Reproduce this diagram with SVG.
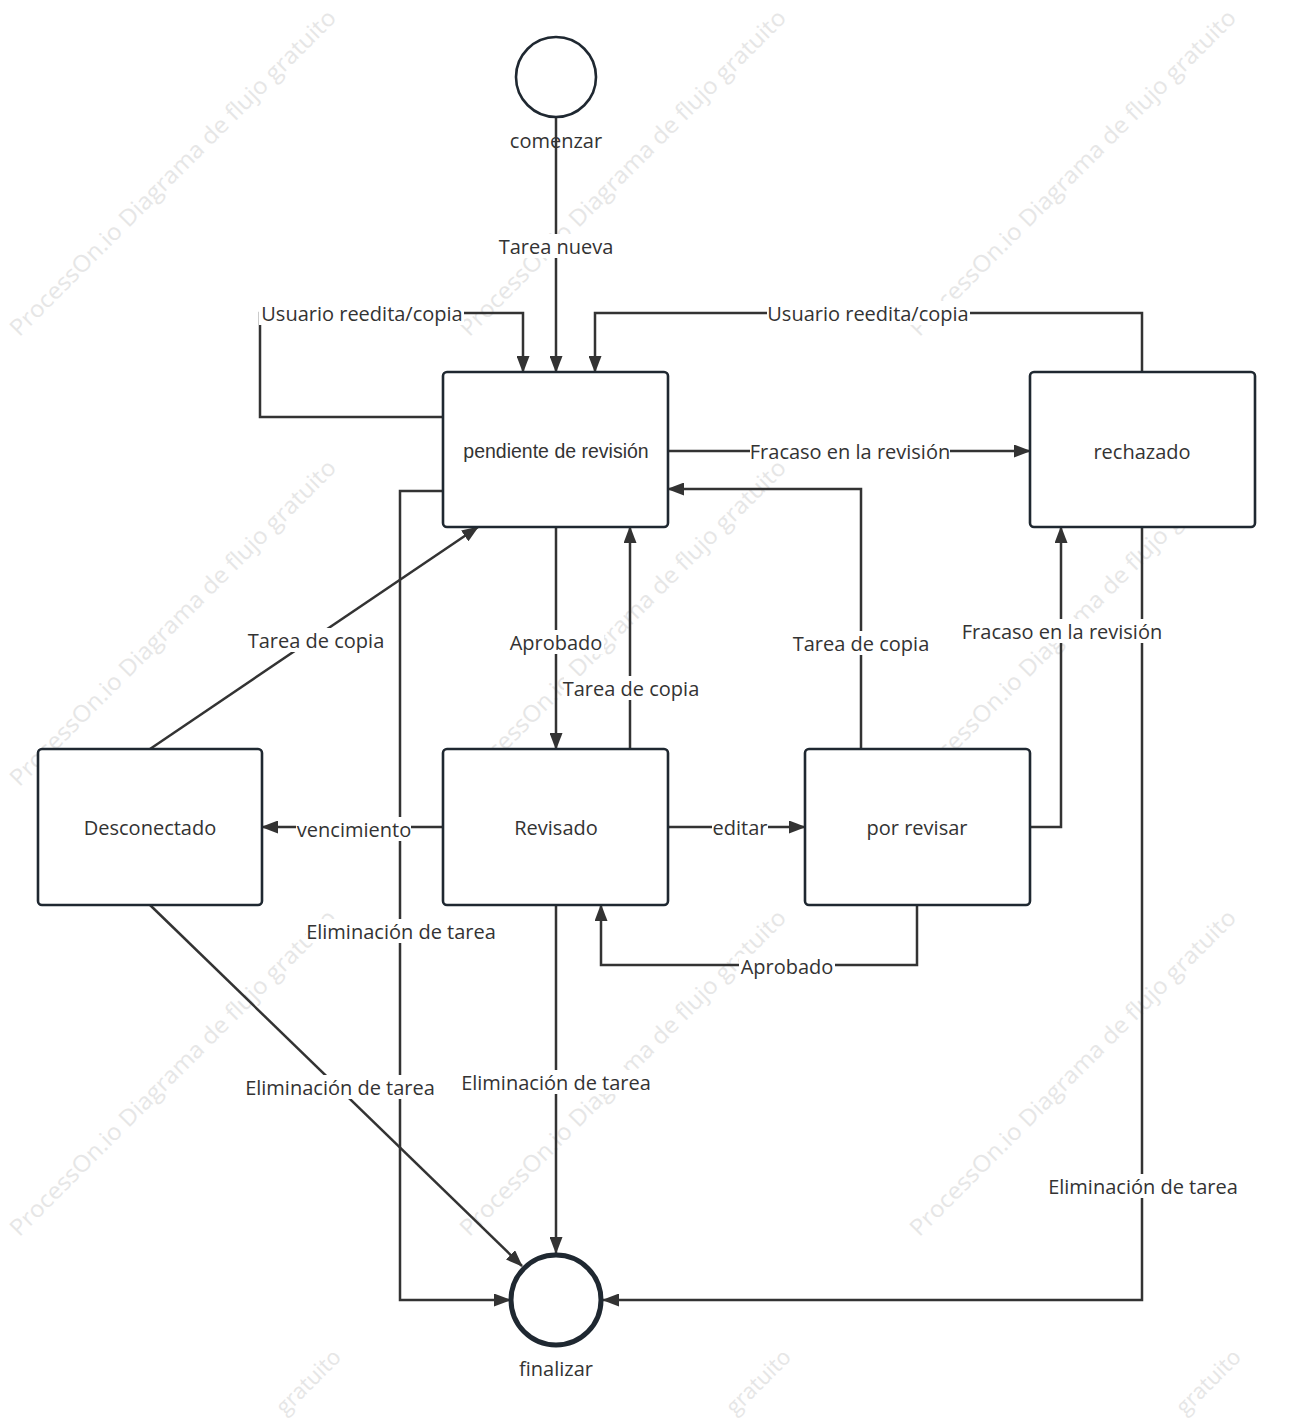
<svg xmlns="http://www.w3.org/2000/svg" width="1292" height="1426" viewBox="0 0 1292 1426">
<style>
.wm{font-family:"Open Sans","Noto Sans",sans-serif;font-size:23px;fill:#e6e6e6;text-anchor:middle;dominant-baseline:central}
.wme{font-family:"Open Sans","Noto Sans",sans-serif;font-size:22px;fill:#e6e6e6;text-anchor:end;dominant-baseline:central}
.node{fill:#fff;stroke:#1f2831;stroke-width:2.6}
.ntext{font-family:"Open Sans","Noto Sans",sans-serif;font-size:20px;fill:#333;text-anchor:middle;dominant-baseline:central}
.ntextA{font-family:"Liberation Sans",Arial,sans-serif;font-size:19.5px;fill:#333;text-anchor:middle;dominant-baseline:central}
.edge{fill:none;stroke:#333;stroke-width:2.5}
.lbg{fill:#fff}
.lbl{font-family:"Open Sans","Noto Sans",sans-serif;font-size:20px;fill:#333;text-anchor:middle;dominant-baseline:central}
</style>
<defs>
<marker id="arr" markerUnits="userSpaceOnUse" markerWidth="17" markerHeight="13" refX="16" refY="6.5" orient="auto">
<path d="M0,0 L17,6.5 L0,13 z" fill="#333"/>
</marker>
</defs>
<rect width="1292" height="1426" fill="#fff"/>
<g id="watermarks">
<text class="wm" transform="translate(172,172) rotate(-45)" textLength="450" lengthAdjust="spacingAndGlyphs">ProcessOn.io Diagrama de flujo gratuito</text>
<text class="wm" transform="translate(622,172) rotate(-45)" textLength="450" lengthAdjust="spacingAndGlyphs">ProcessOn.io Diagrama de flujo gratuito</text>
<text class="wm" transform="translate(1072,172) rotate(-45)" textLength="450" lengthAdjust="spacingAndGlyphs">ProcessOn.io Diagrama de flujo gratuito</text>
<text class="wm" transform="translate(172,622) rotate(-45)" textLength="450" lengthAdjust="spacingAndGlyphs">ProcessOn.io Diagrama de flujo gratuito</text>
<text class="wm" transform="translate(622,622) rotate(-45)" textLength="450" lengthAdjust="spacingAndGlyphs">ProcessOn.io Diagrama de flujo gratuito</text>
<text class="wm" transform="translate(1072,622) rotate(-45)" textLength="450" lengthAdjust="spacingAndGlyphs">ProcessOn.io Diagrama de flujo gratuito</text>
<text class="wm" transform="translate(172,1072) rotate(-45)" textLength="450" lengthAdjust="spacingAndGlyphs">ProcessOn.io Diagrama de flujo gratuito</text>
<text class="wm" transform="translate(622,1072) rotate(-45)" textLength="450" lengthAdjust="spacingAndGlyphs">ProcessOn.io Diagrama de flujo gratuito</text>
<text class="wm" transform="translate(1072,1072) rotate(-45)" textLength="450" lengthAdjust="spacingAndGlyphs">ProcessOn.io Diagrama de flujo gratuito</text>
<text class="wme" transform="translate(336,1352) rotate(-45)">gratuito</text>
<text class="wme" transform="translate(786,1352) rotate(-45)">gratuito</text>
<text class="wme" transform="translate(1236,1352) rotate(-45)">gratuito</text>
</g>
<g id="connectors">
<path class="edge" d="M556,117 L556,372" marker-end="url(#arr)"/>
<path class="edge" d="M443,417 L260,417 L260,313 L523,313 L523,372" marker-end="url(#arr)"/>
<path class="edge" d="M1142,372 L1142,313 L595,313 L595,372" marker-end="url(#arr)"/>
<path class="edge" d="M668,451 L1030,451" marker-end="url(#arr)"/>
<path class="edge" d="M861,749 L861,489 L668,489" marker-end="url(#arr)"/>
<path class="edge" d="M556,527 L556,749" marker-end="url(#arr)"/>
<path class="edge" d="M630,749 L630,527" marker-end="url(#arr)"/>
<path class="edge" d="M150,749 L478,527" marker-end="url(#arr)"/>
<path class="edge" d="M443,827 L262,827" marker-end="url(#arr)"/>
<path class="edge" d="M668,827 L805,827" marker-end="url(#arr)"/>
<path class="edge" d="M1030,827 L1061,827 L1061,527" marker-end="url(#arr)"/>
<path class="edge" d="M917,905 L917,965 L601,965 L601,905" marker-end="url(#arr)"/>
<path class="edge" d="M443,491 L400,491 L400,1300 L510,1300" marker-end="url(#arr)"/>
<path class="edge" d="M150,905 L522,1266" marker-end="url(#arr)"/>
<path class="edge" d="M556,905 L556,1253" marker-end="url(#arr)"/>
<path class="edge" d="M1142,527 L1142,1300 L603,1300" marker-end="url(#arr)"/>
<rect class="lbg" x="500" y="234" width="113" height="24"/><text class="lbl" x="556" y="246">Tarea nueva</text>
<rect class="lbg" x="259" y="301" width="205" height="24"/><text class="lbl" x="362" y="313">Usuario reedita/copia</text>
<rect class="lbg" x="767" y="301" width="203" height="24"/><text class="lbl" x="868" y="313">Usuario reedita/copia</text>
<rect class="lbg" x="750" y="439" width="200" height="24"/><text class="lbl" x="850" y="451">Fracaso en la revisión</text>
<rect class="lbg" x="794" y="631" width="135" height="24"/><text class="lbl" x="861" y="643">Tarea de copia</text>
<rect class="lbg" x="509" y="630" width="95" height="24"/><text class="lbl" x="556" y="642">Aprobado</text>
<rect class="lbg" x="564" y="676" width="135" height="24"/><text class="lbl" x="631" y="688">Tarea de copia</text>
<rect class="lbg" x="249" y="628" width="135" height="24"/><text class="lbl" x="316" y="640">Tarea de copia</text>
<rect class="lbg" x="296" y="817" width="115" height="24"/><text class="lbl" x="354" y="829">vencimiento</text>
<rect class="lbg" x="712" y="815" width="56" height="24"/><text class="lbl" x="740" y="827">editar</text>
<rect class="lbg" x="962" y="619" width="200" height="24"/><text class="lbl" x="1062" y="631">Fracaso en la revisión</text>
<rect class="lbg" x="739" y="954" width="96" height="24"/><text class="lbl" x="787" y="966">Aprobado</text>
<rect class="lbg" x="306" y="919" width="190" height="24"/><text class="lbl" x="401" y="931">Eliminación de tarea</text>
<rect class="lbg" x="245" y="1075" width="190" height="24"/><text class="lbl" x="340" y="1087">Eliminación de tarea</text>
<rect class="lbg" x="461" y="1070" width="190" height="24"/><text class="lbl" x="556" y="1082">Eliminación de tarea</text>
<rect class="lbg" x="1048" y="1174" width="190" height="24"/><text class="lbl" x="1143" y="1186">Eliminación de tarea</text>
</g>
<g id="start">
<circle cx="556" cy="77" r="40" fill="#fff" stroke="#1f2831" stroke-width="2.6"/>
<text class="ntext" x="556" y="140">comenzar</text>
</g>
<g id="pendiente">
<rect class="node" x="443" y="372" width="225" height="155" rx="4"/>
<text class="ntextA" x="556" y="451">pendiente de revisión</text>
</g>
<g id="rechazado">
<rect class="node" x="1030" y="372" width="225" height="155" rx="4"/>
<text class="ntext" x="1142" y="451">rechazado</text>
</g>
<g id="desconectado">
<rect class="node" x="38" y="749" width="224" height="156" rx="4"/>
<text class="ntext" x="150" y="827">Desconectado</text>
</g>
<g id="revisado">
<rect class="node" x="443" y="749" width="225" height="156" rx="4"/>
<text class="ntext" x="556" y="827">Revisado</text>
</g>
<g id="porrevisar">
<rect class="node" x="805" y="749" width="225" height="156" rx="4"/>
<text class="ntext" x="917" y="827">por revisar</text>
</g>
<g id="finalizar">
<circle cx="556" cy="1300" r="45" fill="#fff" stroke="#1f2831" stroke-width="5"/>
<text class="ntext" x="556" y="1368">finalizar</text>
</g>
</svg>
